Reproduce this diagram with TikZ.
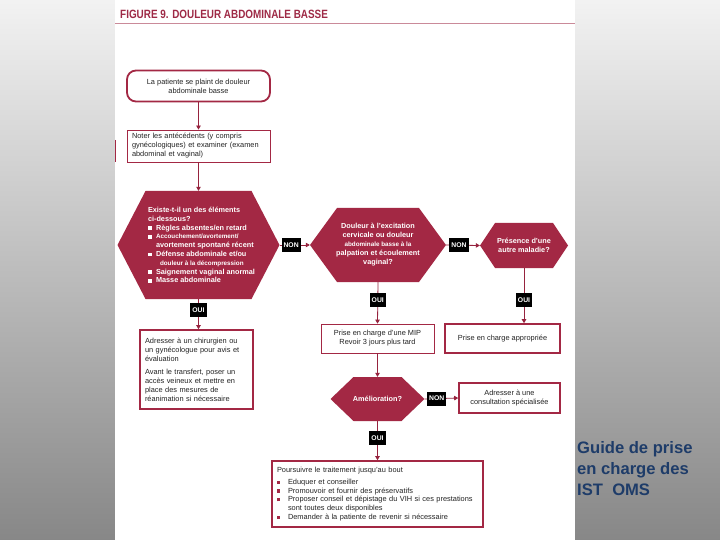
\documentclass[tikz,border=0pt]{standalone}
\usepackage{fontspec}
\setmainfont{Liberation Sans}
\usetikzlibrary{arrows.meta}
\definecolor{hexred}{RGB}{163,40,68}
\definecolor{conred}{RGB}{150,35,62}
\definecolor{titred}{RGB}{158,42,70}
\definecolor{guidecol}{RGB}{30,60,105}
\definecolor{txtcol}{RGB}{35,35,35}
\newcommand{\wsq}{\makebox[8pt][l]{\textcolor{white}{\rule[0.3pt]{3.6pt}{3.6pt}}}}
\newcommand{\rsq}{\makebox[11pt][l]{\textcolor{hexred}{\rule[0.4pt]{3.3pt}{3.3pt}}}}
\newcommand{\bodyfont}{\fontsize{7.4}{9}\selectfont}
\newcommand{\hexfont}{\fontsize{7.3}{8.8}\selectfont\bfseries}
\newcommand{\smallhex}{\fontsize{6.3}{8.8}\selectfont}
\tikzset{
  hexd/.store in=\hexd, hexd=20pt,
  hexa/.style={inner sep=0pt, text=white, font=\hexfont, align=center,
    path picture={\fill[hexred]
      ([xshift=\hexd]path picture bounding box.north west) --
      ([xshift=-\hexd]path picture bounding box.north east) --
      (path picture bounding box.east) --
      ([xshift=-\hexd]path picture bounding box.south east) --
      ([xshift=\hexd]path picture bounding box.south west) --
      (path picture bounding box.west) -- cycle;}},
  thinbox/.style={draw=hexred, line width=0.8pt, fill=white, text=txtcol, font=\bodyfont, inner xsep=5pt, inner ysep=2pt},
  thickbox/.style={draw=hexred, line width=1.6pt, fill=white, text=txtcol, font=\bodyfont, inner xsep=5pt, inner ysep=2pt},
  startbox/.style={draw=hexred, line width=1.8pt, rounded corners=9pt, fill=white, text=txtcol, font=\bodyfont, align=center},
  lab/.style={fill=black, text=white, font=\bfseries\fontsize{6.8}{6.8}\selectfont, inner xsep=2pt, inner ysep=0pt, minimum height=14pt},
  arr/.style={draw=conred, line width=0.8pt, -{Triangle[length=4pt,width=4.5pt]}}
}
\begin{document}
\begin{tikzpicture}[x=1pt,y=-1pt]
\useasboundingbox (0,0) rectangle (720,540);
% background
\shade[top color=black!5, bottom color=black!47] (0,0) rectangle (115,540);
\shade[top color=black!5, bottom color=black!47] (575,0) rectangle (720,540);
\fill[white] (115,0) rectangle (575,540);
\draw[hexred, line width=1pt] (115,140) -- (115,162);
% title
\node[anchor=west, inner sep=0pt] (title) at (120,14.8) {\color{titred}\scalebox{0.825}[1]{\fontsize{12}{12}\selectfont\bfseries FIGURE 9. DOULEUR ABDOMINALE BASSE}};
\draw[titred!55, line width=0.6pt] (115,23.5) -- (575,23.5);

% nodes
\node[startbox, minimum width=143pt, minimum height=31pt] (start) at (198.5,86) {La patiente se plaint de douleur\\abdominale basse};
\node[thinbox, minimum width=143pt, minimum height=32pt, text width=133pt, align=left] (note) at (198.5,146) {Noter les antécédents (y compris\\gynécologiques) et examiner (examen\\abdominal et vaginal)};

\node[hexa, hexd=28pt, minimum width=162pt, minimum height=108pt] (q1) at (198.5,245) {\hspace*{15pt}\begin{minipage}{116pt}\hexfont\raggedright
Existe-t-il un des éléments\\
ci-dessous?\\
\wsq Règles absentes/en retard\\
\wsq{\smallhex Accouchement/avortement/}\\
\hspace*{8pt}avortement spontané récent\\
\wsq Défense abdominale et/ou\\
\hspace*{12pt}{\smallhex douleur à la décompression}\\
\wsq Saignement vaginal anormal\\
\wsq Masse abdominale
\end{minipage}};

\node[hexa, hexd=27pt, minimum width=136pt, minimum height=74pt, font=\fontsize{7.3}{9}\selectfont\bfseries] (q2) at (378,245) {Douleur à l'excitation\\cervicale ou douleur\\{\smallhex abdominale basse à la}\\palpation et écoulement\\vaginal?};
\node[hexa, hexd=15pt, minimum width=88pt, minimum height=45pt] (q3) at (524,245.5) {Présence d'une\\autre maladie?};

\node[thickbox, minimum width=113pt, minimum height=79pt, text width=103pt, align=left] (adr) at (196.5,369.5) {Adresser à un chirurgien ou\\un gynécologue pour avis et\\évaluation\\[4pt]Avant le transfert, poser un\\accès veineux et mettre en\\place des mesures de\\réanimation si nécessaire};
\node[thinbox, minimum width=113pt, minimum height=29pt, align=center] (mip) at (377.5,338.5) {Prise en charge d'une MIP\\Revoir 3 jours plus tard};
\node[thickbox, minimum width=115pt, minimum height=29pt, align=center] (appr) at (502.5,338.5) {Prise en charge appropriée};

\node[hexa, hexd=23pt, minimum width=94pt, minimum height=44pt] (q4) at (377.5,399) {Amélioration?};
\node[thickbox, minimum width=101pt, minimum height=30pt, align=center] (consult) at (509.5,398) {Adresser à une\\consultation spécialisée};

\node[thickbox, minimum width=211pt, minimum height=66pt, text width=201pt, align=left, font=\fontsize{7.4}{8.8}\selectfont] (final) at (377.5,494) {Poursuivre le traitement jusqu'au bout\\[3pt]
\rsq Eduquer et conseiller\\
\rsq Promouvoir et fournir des préservatifs\\
\rsq Proposer conseil et dépistage du VIH si ces prestations\\
\hspace*{11pt}sont toutes deux disponibles\\
\rsq Demander à la patiente de revenir si nécessaire};

\node[anchor=north west, inner sep=0pt, align=left, text=guidecol, font=\bfseries\fontsize{16.6}{21}\selectfont] (guide) at (577,441) {Guide de prise\\en charge des\\IST\ \ OMS};

% connectors
\draw[arr] (start.south) -- (note.north);
\draw[arr] (note.south) -- (q1.north);
\draw[arr] (q1.east) -- node[lab, pos=0.38] (n1) {NON} (q2.west);
\draw[arr] (q2.east) -- node[lab, pos=0.38] (n2) {NON} (q3.west);
\draw[arr] (q1.south) -- node[lab, pos=0.37] (o1) {OUI} (q1.south |- adr.north);
\draw[arr] (q2.south) -- node[lab, pos=0.44] (o2) {OUI} (mip.north);
\draw[arr] (q3.south) -- node[lab, pos=0.58] (o3) {OUI} (q3.south |- appr.north);
\draw[arr] (mip.south) -- (q4.north);
\draw[arr] (q4.east) -- node[lab, pos=0.36] (n3) {NON} (consult.west);
\draw[arr] (q4.south) -- node[lab, pos=0.44] (o4) {OUI} (final.north);
\end{tikzpicture}
\end{document}
